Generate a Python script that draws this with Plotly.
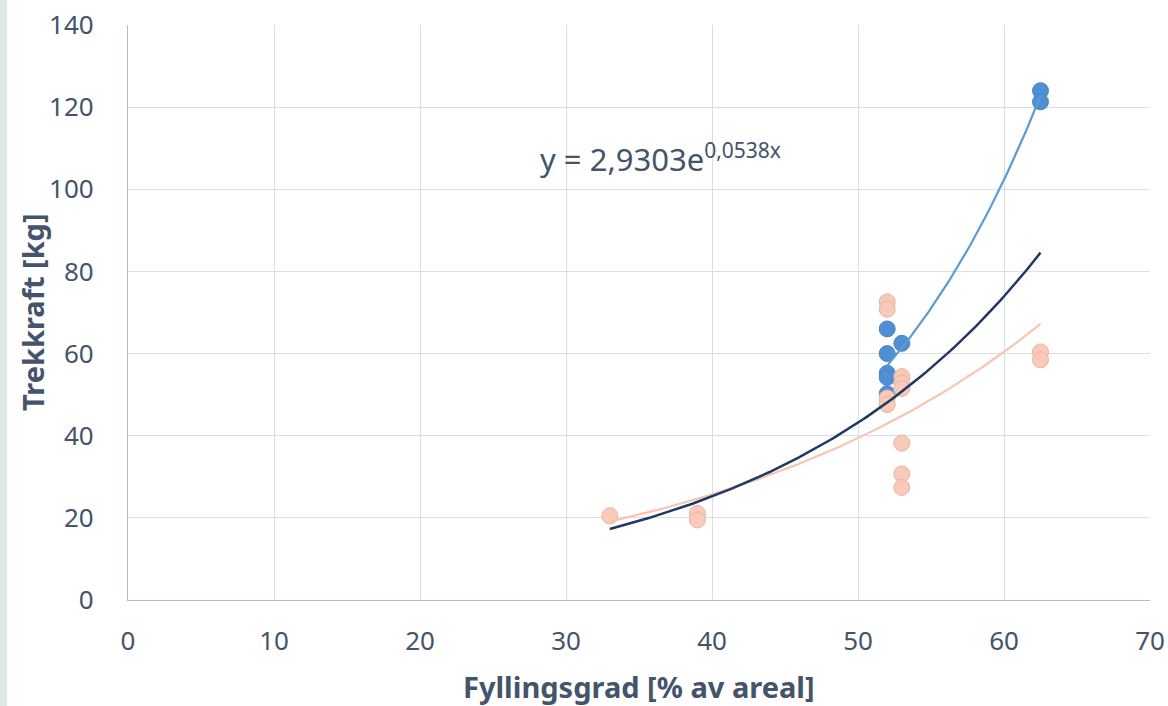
import numpy as np
import plotly.graph_objects as go

# Data
blue_x = [52, 52, 52, 52, 52, 53, 62.5, 62.5]
blue_y = [66.0, 60.0, 55.2, 54.2, 50.2, 62.5, 124.0, 121.3]

orange_x = [33, 39, 39, 52, 52, 52, 52, 53, 53, 53, 53, 53, 53, 62.5, 62.5]
orange_y = [20.5, 21.1, 19.5, 72.6, 70.8, 49.2, 47.6, 54.4, 52.8, 51.5, 38.2, 30.7, 27.4, 60.4, 58.5]

# Trendline coefficients y = a*exp(b*x)
total_a, total_b = 2.9303, 0.0538      # printed on the chart
orange_a, orange_b = 4.66, 0.0427
eq_main = "y = 2,9303e"
eq_sup = "0,0538x"

x_ticks = [0, 10, 20, 30, 40, 50, 60, 70]
y_ticks = [0, 20, 40, 60, 80, 100, 120, 140]

x_title = "Fyllingsgrad [% av areal]"
y_title = "Trekkraft [kg]"


def expfit(xs, ys):
    b, ln_a = np.polyfit(np.array(xs, float), np.log(np.array(ys, float)), 1)
    return np.exp(ln_a), b


def curve(a, b, x0, x1):
    xs = np.linspace(x0, x1, 120)
    return xs, a * np.exp(b * xs)


TEXT = "#44546a"
BLUE = "#5b9bd5"
ORANGE = "#f9c4b2"
NAVY = "#1f3864"
FONT = "Noto Sans"

W, H = 1168, 706
L, R, T, B = 128, 18, 25, 106
PW, PH = W - L - R, H - T - B

fig = go.Figure()
fig.add_trace(go.Scatter(x=blue_x, y=blue_y, mode="markers",
                         marker=dict(size=16, color="#4f8fd4", line=dict(color="#4a86c8", width=1)),
                         showlegend=False))
fig.add_trace(go.Scatter(x=orange_x, y=orange_y, mode="markers",
                         marker=dict(size=16, color="#f9c9b9", line=dict(color="#ebb3a2", width=1)),
                         showlegend=False))

ba, bb = expfit(blue_x, blue_y)
xs, ys = curve(ba, bb, min(blue_x), max(blue_x))
fig.add_trace(go.Scatter(x=xs, y=ys, mode="lines", line=dict(color=BLUE, width=2.2), showlegend=False))

xs, ys = curve(orange_a, orange_b, min(orange_x), max(orange_x))
fig.add_trace(go.Scatter(x=xs, y=ys, mode="lines", line=dict(color=ORANGE, width=2.2), showlegend=False))

xs, ys = curve(total_a, total_b, min(orange_x), max(orange_x))
fig.add_trace(go.Scatter(x=xs, y=ys, mode="lines", line=dict(color=NAVY, width=2.5), showlegend=False))

# Equation
fig.add_annotation(x=(538 - L) / PW, y=(600 - 158) / PH, xref="paper", yref="paper",
                   text=eq_main + "<sup><span style='font-size:21px'>" + eq_sup + "</span></sup>",
                   showarrow=False, xanchor="left", yanchor="middle",
                   font=dict(family=FONT, size=31, color=TEXT))

# Axis titles
fig.add_annotation(x=(639 - L) / PW, y=(600 - 686) / PH, xref="paper", yref="paper",
                   text="<b>" + x_title + "</b>", showarrow=False,
                   xanchor="center", yanchor="middle",
                   font=dict(family=FONT, size=29, color=TEXT))
fig.add_annotation(x=(32 - L) / PW, y=(600 - 312) / PH, xref="paper", yref="paper",
                   text="<b>" + y_title + "</b>", showarrow=False, textangle=-90,
                   xanchor="center", yanchor="middle",
                   font=dict(family=FONT, size=29, color=TEXT))

# light strip at left edge
fig.add_shape(type="rect", xref="paper", yref="paper",
              x0=-L / PW, x1=-(L - 7) / PW, y0=-B / PH, y1=1 + T / PH,
              fillcolor="#dde9e4", line=dict(width=0), layer="below")

axis_common = dict(showgrid=True, gridcolor="#d9dee7", gridwidth=1.3,
                   showline=True, linecolor="#b3bccb", linewidth=1.3,
                   zeroline=False, ticks="", ticklen=0, automargin=False,
                   tickfont=dict(family=FONT, size=26, color=TEXT))

fig.update_layout(
    width=W, height=H,
    margin=dict(l=L, r=R, t=T, b=B, autoexpand=False),
    paper_bgcolor="white", plot_bgcolor="white",
    font=dict(family=FONT, color=TEXT, size=21),
    xaxis=dict(range=[0, 70], tickvals=x_ticks, ticktext=[str(v) for v in x_ticks],
               ticklabelstandoff=18, **axis_common),
    yaxis=dict(range=[0, 140], tickvals=y_ticks, ticktext=[str(v) for v in y_ticks],
               ticklabelstandoff=28, **axis_common),
)
fig.write_html("out.html")
